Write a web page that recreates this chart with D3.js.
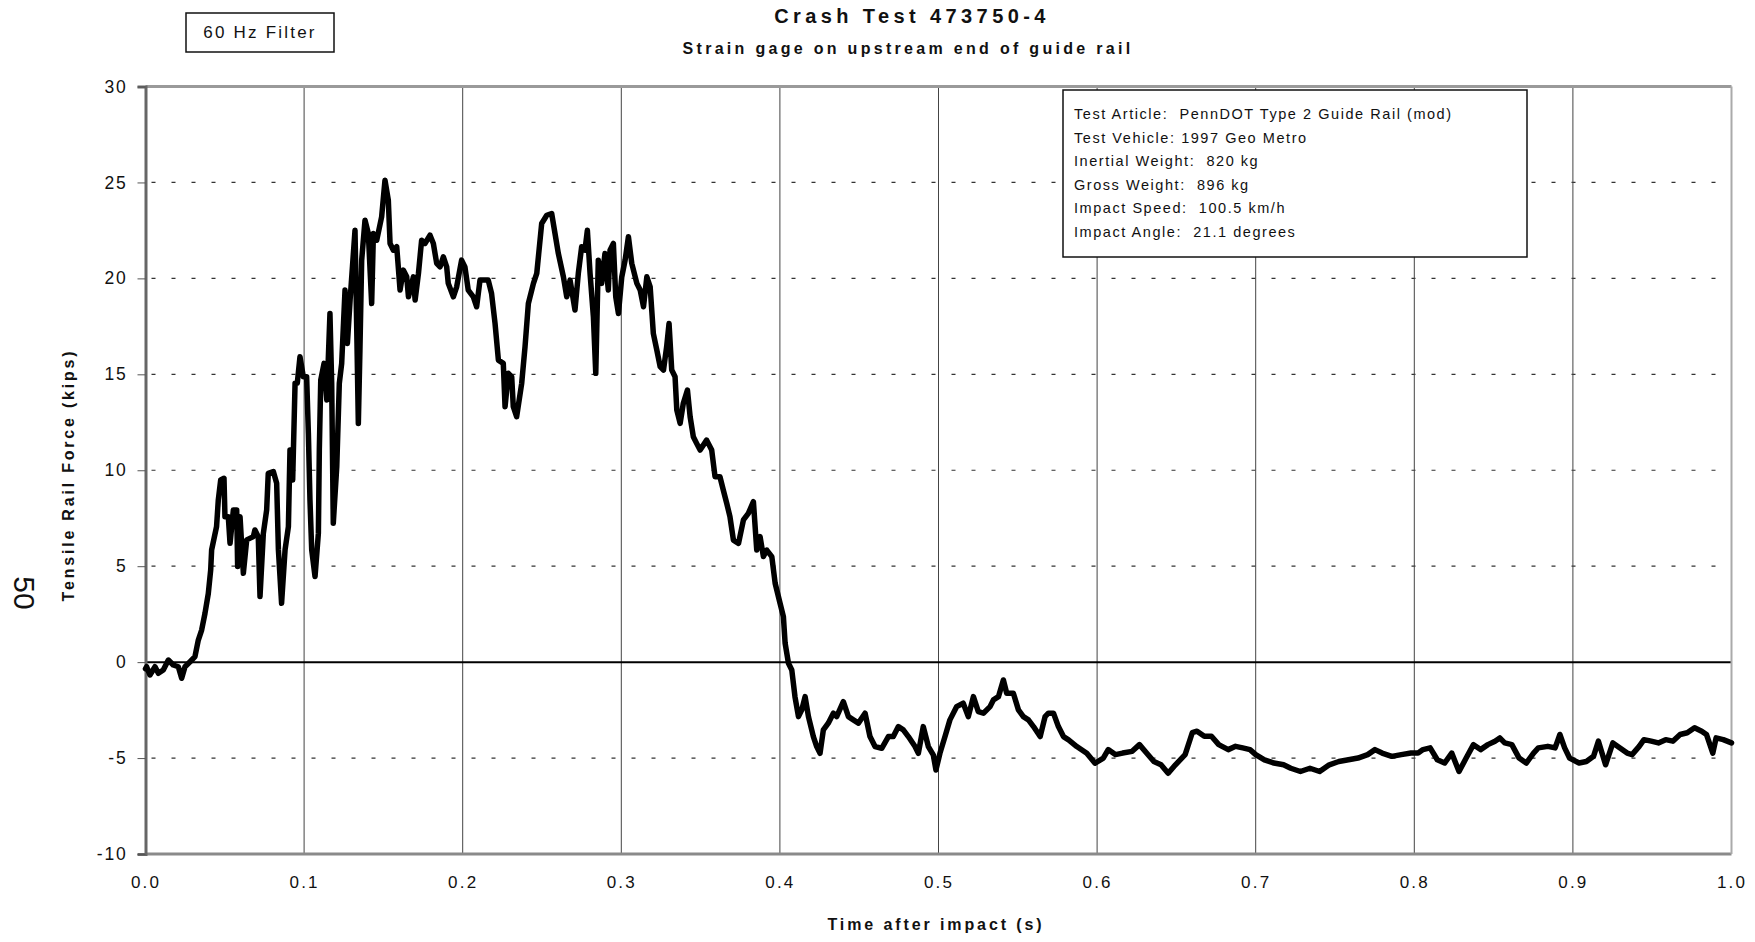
<!DOCTYPE html>
<html>
<head>
<meta charset="utf-8">
<script src="https://cdn.jsdelivr.net/npm/d3@7"></script>
<style>
  html, body { margin: 0; padding: 0; background: #fff; }
  svg { display: block; }
  text { font-family: "Liberation Sans", Arial, sans-serif; fill: #111; white-space: pre; }
</style>
</head>
<body>
<svg id="chart" width="1755" height="942"></svg>
<script>
// ---------------- DATA ----------------
const chartTitle = "Crash Test 473750-4";
const chartSubtitle = "Strain gage on upstream end of guide rail";
const filterLabel = "60 Hz Filter";
const xAxisTitle = "Time after impact (s)";
const yAxisTitle = "Tensile Rail Force (kips)";
const pageNumber = "50";
const infoLines = [
  "Test Article:  PennDOT Type 2 Guide Rail (mod)",
  "Test Vehicle: 1997 Geo Metro",
  "Inertial Weight:  820 kg",
  "Gross Weight:  896 kg",
  "Impact Speed:  100.5 km/h",
  "Impact Angle:  21.1 degrees"
];
const xTicks = [0.0, 0.1, 0.2, 0.3, 0.4, 0.5, 0.6, 0.7, 0.8, 0.9, 1.0];
const yTicks = [-10, -5, 0, 5, 10, 15, 20, 25, 30];

// time after impact (s)
const timeS = [
0.0000,0.0007,0.0028,0.0060,0.0081,0.0112,0.0144,0.0175,0.0207,0.0228,0.0249,0.0281,0.0312,0.0333,0.0354,0.0375,0.0396,0.0411,
0.0417,0.0448,0.0459,0.0474,0.0495,0.0501,0.0522,0.0533,0.0554,0.0575,0.0581,0.0596,0.0617,0.0638,0.0680,0.0690,0.0711,0.0722,
0.0743,0.0764,0.0774,0.0806,0.0827,0.0838,0.0858,0.0880,0.0901,0.0911,0.0928,0.0943,0.0957,0.0974,0.0995,0.1016,0.1027,0.1037,
0.1048,0.1069,0.1090,0.1096,0.1105,0.1126,0.1143,0.1163,0.1174,0.1184,0.1206,0.1222,0.1237,0.1258,0.1273,0.1290,0.1321,0.1332,
0.1342,0.1352,0.1363,0.1384,0.1405,0.1426,0.1437,0.1458,0.1489,0.1510,0.1531,0.1542,0.1563,0.1584,0.1605,0.1626,0.1647,0.1658,
0.1689,0.1700,0.1721,0.1741,0.1762,0.1794,0.1815,0.1836,0.1857,0.1878,0.1899,0.1909,0.1941,0.1962,0.1993,0.2014,0.2035,0.2067,
0.2088,0.2109,0.2161,0.2182,0.2204,0.2225,0.2256,0.2267,0.2288,0.2309,0.2319,0.2340,0.2372,0.2393,0.2414,0.2446,0.2467,0.2498,
0.2530,0.2561,0.2582,0.2603,0.2635,0.2656,0.2677,0.2708,0.2729,0.2750,0.2771,0.2786,0.2803,0.2824,0.2839,0.2855,0.2876,0.2897,
0.2918,0.2929,0.2950,0.2965,0.2982,0.3003,0.3024,0.3045,0.3066,0.3098,0.3119,0.3140,0.3161,0.3182,0.3202,0.3224,0.3245,0.3266,
0.3286,0.3301,0.3318,0.3339,0.3350,0.3371,0.3391,0.3417,0.3434,0.3454,0.3475,0.3497,0.3538,0.3570,0.3591,0.3622,0.3643,0.3665,
0.3685,0.3707,0.3739,0.3770,0.3801,0.3833,0.3854,0.3875,0.3896,0.3917,0.3949,0.3970,0.4001,0.4022,0.4033,0.4054,0.4075,0.4095,
0.4117,0.4138,0.4159,0.4180,0.4211,0.4232,0.4253,0.4274,0.4305,0.4337,0.4358,0.4400,0.4432,0.4463,0.4495,0.4537,0.4568,0.4600,
0.4642,0.4684,0.4715,0.4747,0.4778,0.4810,0.4852,0.4873,0.4904,0.4936,0.4967,0.4984,0.5009,0.5041,0.5072,0.5114,0.5156,0.5188,
0.5220,0.5251,0.5283,0.5325,0.5346,0.5378,0.5409,0.5430,0.5472,0.5504,0.5535,0.5567,0.5599,0.5641,0.5672,0.5693,0.5725,0.5756,
0.5788,0.5820,0.5872,0.5935,0.5987,0.6039,0.6070,0.6115,0.6161,0.6221,0.6267,0.6312,0.6358,0.6403,0.6448,0.6494,0.6555,0.6600,
0.6630,0.6676,0.6721,0.6767,0.6827,0.6873,0.6918,0.6964,0.7000,0.7055,0.7115,0.7176,0.7221,0.7282,0.7342,0.7403,0.7464,0.7524,
0.7585,0.7645,0.7706,0.7752,0.7797,0.7858,0.7918,0.7979,0.8024,0.8055,0.8100,0.8145,0.8191,0.8236,0.8282,0.8327,0.8373,0.8418,
0.8464,0.8509,0.8539,0.8570,0.8615,0.8661,0.8706,0.8752,0.8782,0.8842,0.8888,0.8918,0.8948,0.8979,0.9039,0.9085,0.9130,0.9161,
0.9206,0.9252,0.9297,0.9342,0.9373,0.9418,0.9448,0.9494,0.9539,0.9585,0.9630,0.9676,0.9721,0.9767,0.9812,0.9842,0.9882,0.9903,
0.9948,1.0000
];
// tensile rail force (kips)
const forceKips = [
-0.35,-0.24,-0.67,-0.24,-0.58,-0.41,0.11,-0.15,-0.24,-0.84,-0.24,0.02,0.29,1.15,1.67,2.54,3.58,4.80,
5.85,7.06,8.45,9.49,9.58,7.58,7.58,6.19,7.93,7.93,4.98,7.58,4.63,6.37,6.54,6.89,6.54,3.42,
6.71,7.93,9.84,9.93,9.32,5.85,3.07,5.85,7.06,11.05,9.49,14.53,14.53,15.92,14.87,14.87,11.92,8.45,
5.85,4.46,6.71,11.05,14.70,15.57,13.66,18.17,14.53,7.24,10.19,14.53,15.57,19.39,16.61,18.87,22.51,17.30,
12.44,16.26,20.95,23.03,22.34,18.69,22.34,21.99,23.21,25.12,24.08,21.82,21.47,21.65,19.39,20.43,20.08,19.04,
20.08,18.87,20.26,21.99,21.82,22.25,21.82,20.78,20.60,21.12,20.60,19.74,19.04,19.56,20.95,20.60,19.39,19.04,
18.52,19.91,19.91,19.21,17.65,15.74,15.57,13.31,15.05,14.87,13.31,12.79,14.53,16.44,18.69,19.74,20.26,22.86,
23.29,23.38,22.34,21.30,20.08,19.04,19.91,18.35,20.26,21.65,21.47,22.51,20.26,18.00,15.05,20.95,19.74,21.30,
19.39,21.47,21.82,19.04,18.17,20.08,20.95,22.17,20.78,19.74,19.39,18.52,20.08,19.56,17.13,16.26,15.40,15.22,
16.44,17.65,15.22,14.87,13.14,12.44,13.49,14.18,12.79,11.75,11.40,11.05,11.57,11.05,9.66,9.66,8.97,8.27,
7.58,6.36,6.19,7.41,7.75,8.36,5.84,6.54,5.50,5.84,5.50,4.11,3.07,2.37,0.98,-0.06,-0.41,-1.80,
-2.84,-2.49,-1.80,-2.84,-3.88,-4.40,-4.75,-3.53,-3.18,-2.66,-2.84,-2.06,-2.84,-3.01,-3.18,-2.66,-3.88,-4.40,
-4.49,-3.88,-3.88,-3.36,-3.53,-3.88,-4.40,-4.75,-3.36,-4.40,-4.83,-5.62,-4.75,-3.88,-3.01,-2.32,-2.14,-2.84,
-1.80,-2.58,-2.66,-2.32,-1.97,-1.80,-0.93,-1.62,-1.62,-2.49,-2.84,-3.01,-3.36,-3.88,-2.84,-2.66,-2.66,-3.36,
-3.88,-4.05,-4.40,-4.75,-5.27,-5.00,-4.56,-4.82,-4.74,-4.65,-4.30,-4.74,-5.18,-5.35,-5.79,-5.35,-4.82,-3.68,
-3.60,-3.86,-3.86,-4.30,-4.56,-4.39,-4.47,-4.56,-4.82,-5.09,-5.26,-5.35,-5.53,-5.70,-5.53,-5.70,-5.35,-5.18,
-5.09,-5.00,-4.82,-4.56,-4.74,-4.91,-4.82,-4.74,-4.74,-4.56,-4.47,-5.09,-5.26,-4.74,-5.70,-5.00,-4.30,-4.56,
-4.30,-4.12,-3.95,-4.21,-4.30,-5.00,-5.26,-4.74,-4.47,-4.39,-4.47,-3.77,-4.47,-5.00,-5.26,-5.18,-4.91,-4.12,
-5.35,-4.21,-4.47,-4.74,-4.82,-4.39,-4.04,-4.12,-4.21,-4.04,-4.12,-3.77,-3.68,-3.42,-3.60,-3.77,-4.74,-3.95,
-4.04,-4.21
];

// ---------------- CHART ----------------
const svg = d3.select("#chart");
const plot = { left: 145.5, right: 1731.5, top: 86.5, bottom: 854 };

const x = d3.scaleLinear().domain([0, 1]).range([plot.left, plot.right]);
const y = d3.scaleLinear().domain([-10, 30]).range([plot.bottom, plot.top]);

// horizontal dashed gridlines
svg.append("g").selectAll("line")
  .data(yTicks.filter(v => v !== 0 && v !== -10 && v !== 30))
  .join("line")
  .attr("x1", plot.left + 6).attr("x2", plot.right)
  .attr("y1", d => y(d)).attr("y2", d => y(d))
  .attr("stroke", "#333").attr("stroke-width", 1.2)
  .attr("stroke-dasharray", "4,16");

// vertical gridlines
svg.append("g").selectAll("line")
  .data(xTicks.filter(v => v !== 0 && v !== 1))
  .join("line")
  .attr("x1", d => x(d)).attr("x2", d => x(d))
  .attr("y1", plot.top).attr("y2", plot.bottom)
  .attr("stroke", "#444").attr("stroke-width", 1);

// zero line
svg.append("line")
  .attr("x1", plot.left).attr("x2", plot.right)
  .attr("y1", y(0)).attr("y2", y(0))
  .attr("stroke", "#000").attr("stroke-width", 2);

// plot frame
svg.append("line").attr("x1", plot.left).attr("x2", plot.right).attr("y1", plot.top).attr("y2", plot.top)
  .attr("stroke", "#9a9a9a").attr("stroke-width", 3);
svg.append("line").attr("x1", plot.left).attr("x2", plot.right).attr("y1", plot.bottom).attr("y2", plot.bottom)
  .attr("stroke", "#8a8a8a").attr("stroke-width", 3);
svg.append("line").attr("x1", plot.right).attr("x2", plot.right).attr("y1", plot.top).attr("y2", plot.bottom)
  .attr("stroke", "#aaa").attr("stroke-width", 2);

const hyphenInt = d => String(d);

// y axis
const yAxis = d3.axisLeft(y).tickValues(yTicks).tickSize(8).tickPadding(10).tickFormat(hyphenInt);
const gy = svg.append("g").attr("transform", `translate(${plot.left},0)`).call(yAxis);
gy.select(".domain").attr("stroke", "#666").attr("stroke-width", 3);
gy.selectAll(".tick line").attr("stroke", "#555").attr("stroke-width", 1);
gy.selectAll(".tick text").attr("font-size", 17.5).attr("letter-spacing", 1.8)
  .attr("font-family", "'Liberation Sans', Arial, sans-serif").attr("fill", "#111");

// x axis
const xAxis = d3.axisBottom(x).tickValues(xTicks).tickSize(0).tickPadding(22).tickFormat(d3.format(".1f"));
const gx = svg.append("g").attr("transform", `translate(0,${plot.bottom})`).call(xAxis);
gx.select(".domain").remove();
gx.selectAll(".tick text").attr("font-size", 17).attr("letter-spacing", 2.2)
  .attr("font-family", "'Liberation Sans', Arial, sans-serif").attr("fill", "#111");

// data line
const line = d3.line().x(d => x(d[0])).y(d => y(d[1]));
svg.append("path")
  .datum(timeS.map((t, i) => [t, forceKips[i]]))
  .attr("d", line)
  .attr("fill", "none").attr("stroke", "#000").attr("stroke-width", 5.5)
  .attr("stroke-linejoin", "round").attr("stroke-linecap", "round");

// info box
const info = svg.append("g");
info.append("rect").attr("x", 1063).attr("y", 90).attr("width", 464).attr("height", 167)
  .attr("fill", "#fff").attr("stroke", "#111").attr("stroke-width", 1.5);
info.selectAll("text").data(infoLines).join("text")
  .attr("x", 1074).attr("y", (d, i) => 119 + i * 23.6)
  .attr("font-size", 14.5).attr("letter-spacing", 1.55)
  .text(d => d);

// titles
svg.append("text").attr("x", 912).attr("y", 23).attr("text-anchor", "middle")
  .attr("font-size", 20).attr("font-weight", "bold").attr("letter-spacing", 4.4)
  .text(chartTitle);
svg.append("text").attr("x", 908).attr("y", 54).attr("text-anchor", "middle")
  .attr("font-size", 16).attr("font-weight", "bold").attr("letter-spacing", 3.3)
  .text(chartSubtitle);

// filter box
svg.append("rect").attr("x", 186).attr("y", 13).attr("width", 148).attr("height", 39)
  .attr("fill", "#fff").attr("stroke", "#111").attr("stroke-width", 1.5);
svg.append("text").attr("x", 260).attr("y", 38).attr("text-anchor", "middle")
  .attr("font-size", 17).attr("letter-spacing", 2.2).text(filterLabel);

// axis titles
svg.append("text").attr("x", 936).attr("y", 930).attr("text-anchor", "middle")
  .attr("font-size", 16).attr("font-weight", "bold").attr("letter-spacing", 2.9)
  .text(xAxisTitle);
svg.append("text").attr("transform", "translate(74,475) rotate(-90)").attr("text-anchor", "middle")
  .attr("font-size", 16).attr("font-weight", "bold").attr("letter-spacing", 2.8)
  .text(yAxisTitle);

// page number
svg.append("text").attr("transform", "translate(14,593) rotate(90)").attr("text-anchor", "middle")
  .attr("font-family", "'Liberation Serif', 'Times New Roman', serif")
  .attr("font-size", 30).text(pageNumber);
</script>
</body>
</html>
